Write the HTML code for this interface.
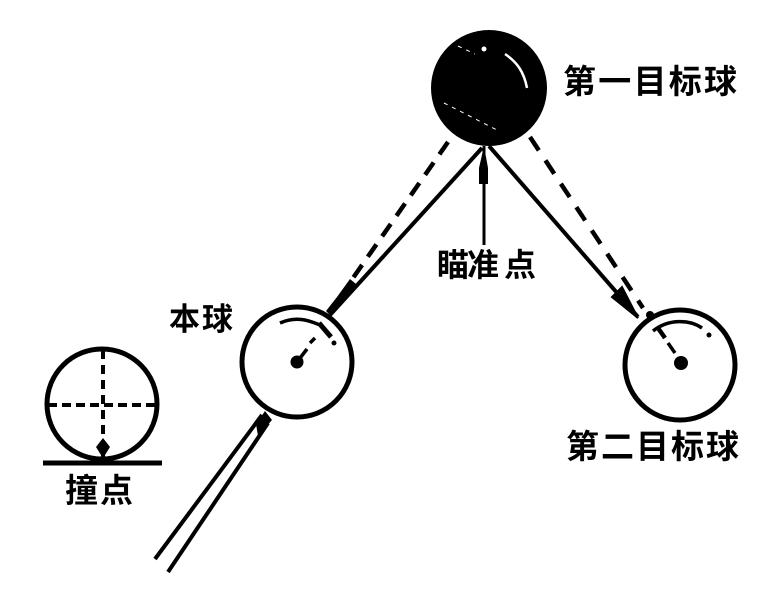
<!DOCTYPE html>
<html>
<head>
<meta charset="utf-8">
<style>
html,body{margin:0;padding:0;background:#fff;}
svg{display:block;}
text{font-family:"Liberation Sans","Noto Sans CJK SC",sans-serif;font-weight:700;fill:#000;}
</style>
</head>
<body>
<svg width="772" height="596" viewBox="0 0 772 596" xmlns="http://www.w3.org/2000/svg">
<rect width="772" height="596" fill="#fff"/>
<!-- first object ball -->
<circle cx="489" cy="88" r="58" fill="#000"/>
<path d="M505 54C517 62 524 72 527 88" fill="none" stroke="#fff" stroke-width="2.5"/>
<circle cx="484" cy="49" r="2.5" fill="#fff"/>
<path d="M458 46L475 54M444 103L497 130" fill="none" stroke="#fff" stroke-width="1" stroke-dasharray="4 5"/>
<!-- solid lines -->
<path d="M482 148L330 315" stroke="#000" stroke-width="4" fill="none"/>
<path d="M489 146L638 317" stroke="#000" stroke-width="4" fill="none"/>
<path d="M484 146V245" stroke="#000" stroke-width="3" fill="none"/>
<path d="M484 146L488 168V184H479V168Z" fill="#000"/>
<path d="M350 279L356 284L338 308L331 316L326 311L337 297Z" fill="#000"/>
<path d="M638 318L612 297L622 287Z" fill="#000" stroke="#000" stroke-width="2"/>
<!-- dashed lines -->
<path d="M448 142L353 278" stroke="#000" stroke-width="4.5" stroke-dasharray="15 10" fill="none"/>
<path d="M530 137L643 308" stroke="#000" stroke-width="4.5" stroke-dasharray="16 12" fill="none"/>
<!-- cue ball -->
<circle cx="297" cy="362" r="55" fill="#fff" stroke="#000" stroke-width="5"/>
<circle cx="297" cy="362" r="6.5" fill="#000"/>
<path d="M297 362L307 349M310 343L315 338" stroke="#000" stroke-width="3.5" fill="none"/>
<path d="M280 323C296 316 308 320 320 325" stroke="#000" stroke-width="3.5" fill="none"/>
<path d="M319 323L331 337" stroke="#000" stroke-width="5" fill="none"/>
<circle cx="334" cy="343" r="2.5" fill="#000"/>
<!-- second object ball -->
<circle cx="680" cy="365" r="55" fill="#fff" stroke="#000" stroke-width="5"/>
<circle cx="650" cy="315" r="4" fill="#000"/>
<circle cx="681" cy="363" r="7" fill="#000"/>
<path d="M668 343L675 353" stroke="#000" stroke-width="3.5" fill="none"/>
<path d="M658 328L665 338" stroke="#000" stroke-width="4.5" fill="none"/>
<path d="M653 331C668 319 689 319 702 328" stroke="#000" stroke-width="3.5" fill="none"/>
<circle cx="709" cy="335" r="2.5" fill="#000"/>
<!-- cue -->
<path d="M262 415L155 559M268 423L168 572" stroke="#000" stroke-width="4" fill="none"/>
<path d="M265 411L272 420L258 436L256 424Z" fill="#000"/>
<!-- contact ball -->
<circle cx="102" cy="404" r="55" fill="#fff" stroke="#000" stroke-width="5"/>
<path d="M103 350V436" stroke="#000" stroke-width="4" stroke-dasharray="9 6" fill="none"/>
<path d="M48 405H157" stroke="#000" stroke-width="4" stroke-dasharray="9 5" fill="none"/>
<path d="M103 438L110 447L105 455V462H101V455L96 447Z" fill="#000"/>
<path d="M43 463H162" stroke="#000" stroke-width="5" fill="none"/>
<!-- labels -->
<text x="563" y="93" font-size="33" textLength="174" lengthAdjust="spacing">第一目标球</text>
<text x="566" y="458" font-size="33" textLength="173" lengthAdjust="spacing">第二目标球</text>
<text x="437 467 504" y="276" font-size="32">瞄准点</text>
<text x="169" y="330" font-size="31" textLength="64" lengthAdjust="spacing">本球</text>
<text x="65" y="502" font-size="33" textLength="68" lengthAdjust="spacing">撞点</text>
</svg>
</body>
</html>
